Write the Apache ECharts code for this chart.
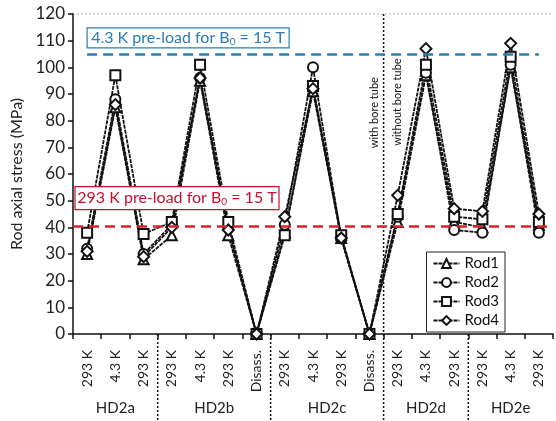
<!DOCTYPE html>
<html>
<head>
<meta charset="utf-8">
<script src="https://cdn.jsdelivr.net/npm/echarts@6/dist/echarts.min.js"></script>
<style>
html,body{margin:0;padding:0;background:#fff}
#main{width:556px;height:421px}
</style>
</head>
<body>
<div id="main"></div>
<script>
// data
var categories = ['293 K','4.3 K','293 K','293 K','4.3 K','293 K','Disass.','293 K','4.3 K','293 K','Disass.','293 K','4.3 K','293 K','293 K','4.3 K','293 K'];
var groups = ['HD2a','HD2b','HD2c','HD2d','HD2e'];
var groupFirst = [0, 3, 7, 11, 14];
var groupLast = [2, 6, 10, 13, 16];
var rod1 = [30, 85, 28, 37, 95, 37, 0, 38, 91, 36, 0, 42, 97, 42, 40, 100, 41];
var rod2 = [32, 88, 30, 41, 96, 40, 0, 41, 100, 36, 0, 44, 98, 39, 38, 101, 38];
var rod3 = [38, 97, 37.5, 42, 101, 42, 0, 37, 93, 37, 0, 45, 101, 44, 43, 104, 42];
var rod4 = [31, 86, 29, 40, 96, 39, 0, 44, 92, 36, 0, 52, 107, 47, 46, 109, 45];
var preload293 = 40.5;
var preload43 = 105;
var boreBoundary = 11; // with / without bore tube

var FONT = 'Lato, "Open Sans", sans-serif';

var myChart = echarts.init(document.getElementById('main'));

function rodSeries(name, data, symbol, size) {
    return {
        name: name,
        type: 'line',
        data: data,
        symbol: symbol,
        symbolSize: size,
        itemStyle: { color: '#111', borderWidth: 1.3 },
        lineStyle: { color: '#111', width: 1.8, type: [4, 1] },
        z: 3
    };
}

var series = [
    rodSeries('Rod1', rod1, 'emptyTriangle', 10),
    rodSeries('Rod2', rod2, 'emptyCircle', 10),
    rodSeries('Rod3', rod3, 'emptyRect', 10),
    rodSeries('Rod4', rod4, 'emptyDiamond', 11)
];
series[0].markLine = {
    silent: true,
    symbol: 'none',
    label: { show: false },
    data: [
        { yAxis: preload293, lineStyle: { color: '#d8232f', width: 2.5, type: [10, 6] } },
        [
            { coord: [0, preload43], lineStyle: { color: '#2b7cb6', width: 2.5, type: [10, 6] } },
            { coord: [categories.length - 1, preload43] }
        ]
    ]
};

var option = {
    animation: false,
    grid: { left: 73, right: 3, top: 14, bottom: 87 },
    legend: {
        data: ['Rod1', 'Rod2', 'Rod3', 'Rod4'],
        orient: 'vertical',
        right: 51,
        top: 252,
        itemWidth: 26,
        itemHeight: 11,
        itemGap: 4,
        padding: [4, 6, 4, 6],
        borderColor: '#222',
        borderWidth: 1,
        backgroundColor: '#fff',
        textStyle: { fontFamily: FONT, fontSize: 15, color: '#111' }
    },
    xAxis: {
        type: 'category',
        data: categories,
        boundaryGap: true,
        axisLine: { lineStyle: { color: '#111', width: 1.5 } },
        axisTick: { show: true, length: 5, lineStyle: { color: '#111', width: 1.5 } },
        axisLabel: {
            rotate: 90,
            margin: 16,
            interval: 0,
            fontFamily: FONT,
            fontSize: 14,
            color: '#222'
        },
        splitLine: { show: false }
    },
    yAxis: {
        type: 'value',
        min: 0,
        max: 120,
        interval: 10,
        name: 'Rod axial stress (MPa)',
        nameLocation: 'middle',
        nameGap: 45,
        nameTextStyle: { fontFamily: FONT, fontSize: 16, color: '#222' },
        axisLine: { show: true, lineStyle: { color: '#111', width: 1.5 } },
        axisTick: { show: true, length: 5, lineStyle: { color: '#111', width: 1.5 } },
        axisLabel: { fontFamily: FONT, fontSize: 17, color: '#222', margin: 8 },
        splitLine: { show: false }
    },
    series: series
};

myChart.setOption(option);

// annotations placed through the chart's own scales
function xAt(i) { return myChart.convertToPixel({ xAxisIndex: 0 }, i); }
function yAt(v) { return myChart.convertToPixel({ yAxisIndex: 0 }, v); }
function boundary(i) { return (xAt(i - 1) + xAt(i)) / 2; }

var step = xAt(1) - xAt(0);
var y0 = yAt(0), yTop = yAt(120);
var xAxisLeft = xAt(0) - step / 2;
var xRight = xAt(categories.length - 1) + step / 2;
var dot = { stroke: '#111', lineWidth: 1.5, lineDash: [2, 2] };
var elements = [];

// top frame line
elements.push({
    type: 'line', silent: true,
    shape: { x1: xAxisLeft, y1: yTop, x2: xRight, y2: yTop },
    style: { stroke: '#b8b8b8', lineWidth: 1, lineDash: [2, 2] }
});

// group separators below the axis
for (var g = 1; g < groups.length; g++) {
    var bx = boundary(groupFirst[g]);
    elements.push({
        type: 'line', silent: true,
        shape: { x1: bx, y1: groupFirst[g] === boreBoundary ? yTop : y0, x2: bx, y2: 421 },
        style: dot
    });
}

// group names
for (var k = 0; k < groups.length; k++) {
    var cx = (xAt(groupFirst[k]) + xAt(groupLast[k])) / 2;
    elements.push({
        type: 'text', silent: true,
        x: cx, y: y0 + 74,
        style: { text: groups[k], fontFamily: FONT, fontSize: 15, fill: '#222', align: 'center', verticalAlign: 'middle' }
    });
}

// bore tube notes
var bb = boundary(boreBoundary);
elements.push({
    type: 'text', silent: true,
    x: bb - 9, y: yAt(83), rotation: Math.PI / 2,
    style: { text: 'with bore tube', fontFamily: FONT, fontSize: 11, fill: '#111', align: 'center', verticalAlign: 'middle' }
});
elements.push({
    type: 'text', silent: true,
    x: bb + 14, y: yAt(87), rotation: Math.PI / 2,
    style: { text: 'without bore tube', fontFamily: FONT, fontSize: 11, fill: '#111', align: 'center', verticalAlign: 'middle' }
});

// pre-load boxes
function noteBox(x, y, w, h, color, label) {
    elements.push({
        type: 'rect', silent: true, z: 20,
        shape: { x: x, y: y, width: w, height: h },
        style: { fill: '#fff', stroke: color, lineWidth: 1.2 }
    });
    elements.push({
        type: 'text', silent: true, z: 21,
        x: x + w / 2, y: y + h / 2,
        style: {
            text: label + ' pre-load for B{s|0} = 15 T',
            rich: { s: { fontSize: 10, padding: [7, 0, 0, 0], fill: color, fontFamily: FONT } },
            fontFamily: FONT, fontSize: 16, fill: color,
            align: 'center', verticalAlign: 'middle'
        }
    });
}
noteBox(xAt(0), yAt(114.8), 202, 20, '#2b7cb6', '4.3 K');
noteBox(xAxisLeft + 2, yAt(55.3), 204, 23, '#c8102e', '293 K');

myChart.setOption({ graphic: { elements: elements } });
</script>
</body>
</html>
